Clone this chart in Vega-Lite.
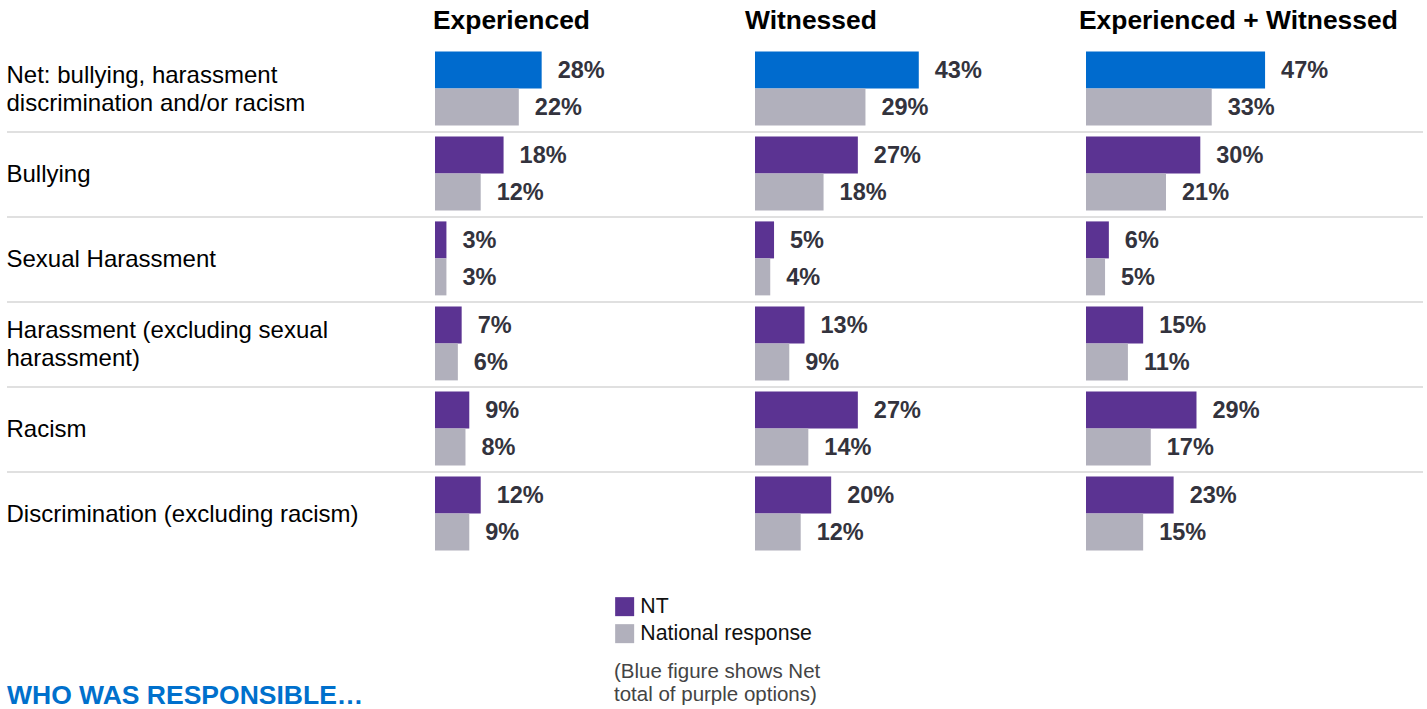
{
  "$schema": "https://vega.github.io/schema/vega-lite/v6.json",
  "background": "white",
  "padding": {"left": 6, "top": 7, "right": 4, "bottom": 0},
  "bounds": "flush",
  "spacing": 0,
  "data": {
    "values": [
      {"cat": "Net: bullying, harassment discrimination and/or racism", "panel": "Experienced", "series": "NT", "group": "Net", "value": 28},
      {"cat": "Net: bullying, harassment discrimination and/or racism", "panel": "Experienced", "series": "National response", "group": "National response", "value": 22},
      {"cat": "Net: bullying, harassment discrimination and/or racism", "panel": "Witnessed", "series": "NT", "group": "Net", "value": 43},
      {"cat": "Net: bullying, harassment discrimination and/or racism", "panel": "Witnessed", "series": "National response", "group": "National response", "value": 29},
      {"cat": "Net: bullying, harassment discrimination and/or racism", "panel": "Experienced + Witnessed", "series": "NT", "group": "Net", "value": 47},
      {"cat": "Net: bullying, harassment discrimination and/or racism", "panel": "Experienced + Witnessed", "series": "National response", "group": "National response", "value": 33},
      {"cat": "Bullying", "panel": "Experienced", "series": "NT", "group": "NT", "value": 18},
      {"cat": "Bullying", "panel": "Experienced", "series": "National response", "group": "National response", "value": 12},
      {"cat": "Bullying", "panel": "Witnessed", "series": "NT", "group": "NT", "value": 27},
      {"cat": "Bullying", "panel": "Witnessed", "series": "National response", "group": "National response", "value": 18},
      {"cat": "Bullying", "panel": "Experienced + Witnessed", "series": "NT", "group": "NT", "value": 30},
      {"cat": "Bullying", "panel": "Experienced + Witnessed", "series": "National response", "group": "National response", "value": 21},
      {"cat": "Sexual Harassment", "panel": "Experienced", "series": "NT", "group": "NT", "value": 3},
      {"cat": "Sexual Harassment", "panel": "Experienced", "series": "National response", "group": "National response", "value": 3},
      {"cat": "Sexual Harassment", "panel": "Witnessed", "series": "NT", "group": "NT", "value": 5},
      {"cat": "Sexual Harassment", "panel": "Witnessed", "series": "National response", "group": "National response", "value": 4},
      {"cat": "Sexual Harassment", "panel": "Experienced + Witnessed", "series": "NT", "group": "NT", "value": 6},
      {"cat": "Sexual Harassment", "panel": "Experienced + Witnessed", "series": "National response", "group": "National response", "value": 5},
      {"cat": "Harassment (excluding sexual harassment)", "panel": "Experienced", "series": "NT", "group": "NT", "value": 7},
      {"cat": "Harassment (excluding sexual harassment)", "panel": "Experienced", "series": "National response", "group": "National response", "value": 6},
      {"cat": "Harassment (excluding sexual harassment)", "panel": "Witnessed", "series": "NT", "group": "NT", "value": 13},
      {"cat": "Harassment (excluding sexual harassment)", "panel": "Witnessed", "series": "National response", "group": "National response", "value": 9},
      {"cat": "Harassment (excluding sexual harassment)", "panel": "Experienced + Witnessed", "series": "NT", "group": "NT", "value": 15},
      {"cat": "Harassment (excluding sexual harassment)", "panel": "Experienced + Witnessed", "series": "National response", "group": "National response", "value": 11},
      {"cat": "Racism", "panel": "Experienced", "series": "NT", "group": "NT", "value": 9},
      {"cat": "Racism", "panel": "Experienced", "series": "National response", "group": "National response", "value": 8},
      {"cat": "Racism", "panel": "Witnessed", "series": "NT", "group": "NT", "value": 27},
      {"cat": "Racism", "panel": "Witnessed", "series": "National response", "group": "National response", "value": 14},
      {"cat": "Racism", "panel": "Experienced + Witnessed", "series": "NT", "group": "NT", "value": 29},
      {"cat": "Racism", "panel": "Experienced + Witnessed", "series": "National response", "group": "National response", "value": 17},
      {"cat": "Discrimination (excluding racism)", "panel": "Experienced", "series": "NT", "group": "NT", "value": 12},
      {"cat": "Discrimination (excluding racism)", "panel": "Experienced", "series": "National response", "group": "National response", "value": 9},
      {"cat": "Discrimination (excluding racism)", "panel": "Witnessed", "series": "NT", "group": "NT", "value": 20},
      {"cat": "Discrimination (excluding racism)", "panel": "Witnessed", "series": "National response", "group": "National response", "value": 12},
      {"cat": "Discrimination (excluding racism)", "panel": "Experienced + Witnessed", "series": "NT", "group": "NT", "value": 23},
      {"cat": "Discrimination (excluding racism)", "panel": "Experienced + Witnessed", "series": "National response", "group": "National response", "value": 15}
    ]
  },
  "hconcat": [
    {
      "width": 428,
      "height": 510,
      "title": {"text": "WHO WAS RESPONSIBLE…", "orient": "bottom", "anchor": "start", "fontSize": 26.5, "color": "#0070CC", "offset": 147, "baseline": "alphabetic", "dx": 1},
      "transform": [{"filter": "datum.panel == 'Experienced' && datum.series == 'NT' && datum.group != 'Net'"}],
      "mark": {"type": "rule", "color": "#e0e0e0", "strokeWidth": 2},
      "encoding": {
        "y": {
          "field": "cat", "type": "nominal", "bandPosition": 0,
          "scale": {"domain": ["Net: bullying, harassment discrimination and/or racism", "Bullying", "Sexual Harassment", "Harassment (excluding sexual harassment)", "Racism", "Discrimination (excluding racism)"], "paddingInner": 0, "paddingOuter": 0},
          "axis": {
            "title": null, "domain": false, "ticks": false, "tickSize": 0, "labelPadding": 1,
            "labelAlign": "left", "labelBaseline": "middle", "labelFont": "Liberation Sans", "labelFontSize": 24,
            "labelColor": "#000000", "labelLimit": 0, "labelLineHeight": 28,
            "labelOffset": {"condition": {"test": "indexof(datum.label, 'Net:') == 0 || indexof(datum.label, 'sexual harassment') > 0", "value": -14}, "value": 0},
            "labelExpr": "split(replace(replace(datum.label, ' discrimination', '|discrimination'), 'sexual harassment', 'sexual|harassment'), '|')"
          }
        }
      }
    },
    {
      "width": 320,
      "height": 510,
      "title": {"text": "Experienced", "dx": -1},
      "transform": [{"filter": "datum.panel == 'Experienced'"}],
      "layer": [
        {
          "transform": [{"filter": "datum.series == 'NT' && datum.group != 'Net'"}],
          "mark": {"type": "rule", "color": "#e0e0e0", "strokeWidth": 2},
          "encoding": {
            "y": {"field": "cat", "type": "nominal", "bandPosition": 0, "axis": null,
              "scale": {"domain": ["Net: bullying, harassment discrimination and/or racism", "Bullying", "Sexual Harassment", "Harassment (excluding sexual harassment)", "Racism", "Discrimination (excluding racism)"], "paddingInner": 0, "paddingOuter": 0}}
          }
        },
        {
          "mark": {"type": "bar"},
          "encoding": {
            "y": {"field": "cat", "type": "nominal", "axis": null},
            "x": {"field": "value", "type": "quantitative", "axis": null, "scale": {"domain": [0, 84.0], "nice": false, "zero": true}},
            "yOffset": {"field": "series", "type": "nominal", "scale": {"domain": ["NT", "National response"], "paddingInner": 0, "paddingOuter": 0.149, "align": 0.4}},
            "color": {"field": "group", "type": "nominal", "scale": {"domain": ["NT", "National response", "Net"], "range": ["#5B3392", "#B1B0BC", "#006BCE"]},
              "legend": {"orient": "none", "legendX": 607, "legendY": 549, "values": ["NT", "National response"], "title": ["(Blue figure shows Net", "total of purple options)"], "titleOrient": "bottom", "titleAnchor": "start", "padding": 0}}
          }
        },
        {
          "transform": [{"calculate": "datum.value + '%'", "as": "label"}],
          "mark": {"type": "text", "align": "left", "baseline": "middle", "dx": 16, "dy": 1, "font": "Liberation Sans", "fontWeight": "bold", "fontSize": 23.5, "color": "#33333D"},
          "encoding": {
            "y": {"field": "cat", "type": "nominal", "axis": null},
            "x": {"field": "value", "type": "quantitative"},
            "yOffset": {"field": "series", "type": "nominal"},
            "text": {"field": "label", "type": "nominal"}
          }
        }
      ]
    },
    {
      "width": 331,
      "height": 510,
      "title": {"text": "Witnessed", "dx": -9},
      "transform": [{"filter": "datum.panel == 'Witnessed'"}],
      "layer": [
        {
          "transform": [{"filter": "datum.series == 'NT' && datum.group != 'Net'"}],
          "mark": {"type": "rule", "color": "#e0e0e0", "strokeWidth": 2},
          "encoding": {
            "y": {"field": "cat", "type": "nominal", "bandPosition": 0, "axis": null,
              "scale": {"domain": ["Net: bullying, harassment discrimination and/or racism", "Bullying", "Sexual Harassment", "Harassment (excluding sexual harassment)", "Racism", "Discrimination (excluding racism)"], "paddingInner": 0, "paddingOuter": 0}}
          }
        },
        {
          "mark": {"type": "bar"},
          "encoding": {
            "y": {"field": "cat", "type": "nominal", "axis": null},
            "x": {"field": "value", "type": "quantitative", "axis": null, "scale": {"domain": [0, 86.9], "nice": false, "zero": true}},
            "yOffset": {"field": "series", "type": "nominal", "scale": {"domain": ["NT", "National response"], "paddingInner": 0, "paddingOuter": 0.149, "align": 0.4}},
            "color": {"field": "group", "type": "nominal", "scale": {"domain": ["NT", "National response", "Net"], "range": ["#5B3392", "#B1B0BC", "#006BCE"]},
              "legend": {"orient": "none", "legendX": 607, "legendY": 549, "values": ["NT", "National response"], "title": ["(Blue figure shows Net", "total of purple options)"], "titleOrient": "bottom", "titleAnchor": "start", "padding": 0}}
          }
        },
        {
          "transform": [{"calculate": "datum.value + '%'", "as": "label"}],
          "mark": {"type": "text", "align": "left", "baseline": "middle", "dx": 16, "dy": 1, "font": "Liberation Sans", "fontWeight": "bold", "fontSize": 23.5, "color": "#33333D"},
          "encoding": {
            "y": {"field": "cat", "type": "nominal", "axis": null},
            "x": {"field": "value", "type": "quantitative"},
            "yOffset": {"field": "series", "type": "nominal"},
            "text": {"field": "label", "type": "nominal"}
          }
        }
      ]
    },
    {
      "width": 337,
      "height": 510,
      "title": {"text": "Experienced + Witnessed", "dx": -6},
      "transform": [{"filter": "datum.panel == 'Experienced + Witnessed'"}],
      "layer": [
        {
          "transform": [{"filter": "datum.series == 'NT' && datum.group != 'Net'"}],
          "mark": {"type": "rule", "color": "#e0e0e0", "strokeWidth": 2},
          "encoding": {
            "y": {"field": "cat", "type": "nominal", "bandPosition": 0, "axis": null,
              "scale": {"domain": ["Net: bullying, harassment discrimination and/or racism", "Bullying", "Sexual Harassment", "Harassment (excluding sexual harassment)", "Racism", "Discrimination (excluding racism)"], "paddingInner": 0, "paddingOuter": 0}}
          }
        },
        {
          "mark": {"type": "bar"},
          "encoding": {
            "y": {"field": "cat", "type": "nominal", "axis": null},
            "x": {"field": "value", "type": "quantitative", "axis": null, "scale": {"domain": [0, 88.45], "nice": false, "zero": true}},
            "yOffset": {"field": "series", "type": "nominal", "scale": {"domain": ["NT", "National response"], "paddingInner": 0, "paddingOuter": 0.149, "align": 0.4}},
            "color": {"field": "group", "type": "nominal", "scale": {"domain": ["NT", "National response", "Net"], "range": ["#5B3392", "#B1B0BC", "#006BCE"]},
              "legend": {"orient": "none", "legendX": 607, "legendY": 549, "values": ["NT", "National response"], "title": ["(Blue figure shows Net", "total of purple options)"], "titleOrient": "bottom", "titleAnchor": "start", "padding": 0}}
          }
        },
        {
          "transform": [{"calculate": "datum.value + '%'", "as": "label"}],
          "mark": {"type": "text", "align": "left", "baseline": "middle", "dx": 16, "dy": 1, "font": "Liberation Sans", "fontWeight": "bold", "fontSize": 23.5, "color": "#33333D"},
          "encoding": {
            "y": {"field": "cat", "type": "nominal", "axis": null},
            "x": {"field": "value", "type": "quantitative"},
            "yOffset": {"field": "series", "type": "nominal"},
            "text": {"field": "label", "type": "nominal"}
          }
        }
      ]
    }
  ],
  "resolve": {"scale": {"x": "independent", "y": "independent", "yOffset": "independent", "color": "shared"}},
  "config": {
    "view": {"stroke": null},
    "font": "Liberation Sans",
    "title": {"fontSize": 26.4, "fontWeight": "bold", "font": "Liberation Sans", "color": "#000000", "anchor": "start", "baseline": "alphabetic", "offset": 13},
    "legend": {
      "titleFont": "Liberation Sans", "titleFontSize": 20.5, "titleFontWeight": "normal",
      "titleColor": "#444444", "titleLineHeight": 23, "titlePadding": 18, "titleLimit": 0,
      "symbolType": "square", "symbolSize": 361, "symbolStrokeWidth": 0, "symbolOpacity": 1,
      "labelFont": "Liberation Sans", "labelFontSize": 21.3, "labelColor": "#111111", "labelOffset": 5, "rowPadding": 5, "labelLimit": 0
    }
  }
}
